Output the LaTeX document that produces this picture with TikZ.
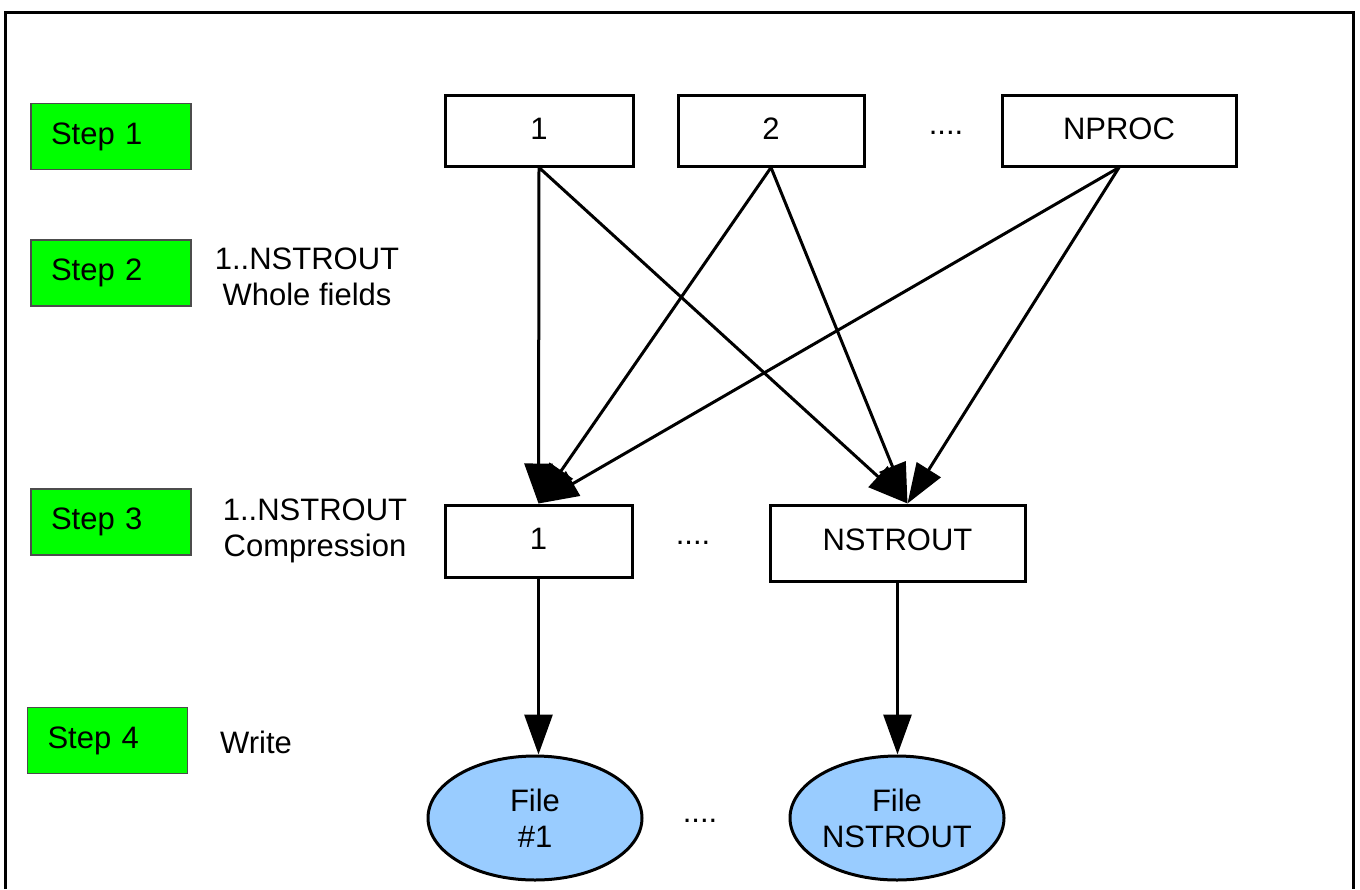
\documentclass[tikz,border=0pt]{standalone}
\usepackage{fontspec}
\setmainfont{Liberation Sans}
\usetikzlibrary{arrows.meta,shapes.geometric}
\definecolor{stepgreen}{HTML}{00FF00}
\definecolor{fileblue}{HTML}{99CCFF}
\newcommand{\uptext}[1]{\raisebox{2pt}{#1}}
\begin{document}
\begin{tikzpicture}[x=0.5pt,y=-0.5pt,
  font=\fontsize{15.5}{18}\selectfont,
  stepbox/.style={draw=black!70, line width=0.7pt, fill=stepgreen, minimum height=33pt,
    text width=60pt, inner xsep=10pt, inner ysep=0pt, align=left},
  procbox/.style={draw, line width=1.5pt, minimum height=35.5pt, inner sep=0pt},
  filenode/.style={ellipse, draw, line width=1.5pt, fill=fileblue, minimum width=107pt,
    minimum height=62pt, align=center, inner sep=0pt},
  arr/.style={line width=1.5pt, -{Triangle[length=20pt,width=14pt]}}]
\useasboundingbox (0,0) rectangle (1360,889);
\draw[line width=1.5pt] (5,889) -- (5,12) -- (1353,12) -- (1353,889);

% step boxes
\node[stepbox] (s1) at (111,136.5) {\uptext{Step 1}};
\node[stepbox] (s2) at (111,273) {\uptext{Step 2}};
\node[stepbox] (s3) at (111,522) {\uptext{Step 3}};
\node[stepbox] (s4) at (107.5,740.5) {\uptext{Step 4}};

% labels
\node[align=center] (l2) at (307,277) {1..NSTROUT\\Whole fields};
\node[align=center] (l3) at (315,531) {1..NSTROUT\\Compression};
\node (l4) at (256,742) {Write};

% processes
\node[procbox, minimum width=94pt] (p1) at (539,130.5) {\uptext{1}};
\node[procbox, minimum width=93pt] (p2) at (771,130.5) {\uptext{2}};
\node[procbox, minimum width=117pt] (pn) at (1119,130.5) {\uptext{NPROC}};

% compression
\node[procbox, minimum width=93.5pt, minimum height=36pt] (c1) at (538.5,541) {\uptext{1}};
\node[procbox, minimum width=127.5pt, minimum height=38pt] (cn) at (897.5,543) {\raisebox{3pt}{NSTROUT}};

% files
\node[filenode] (f1) at (535,818) {File\\\#1};
\node[filenode] (fn) at (897,818) {File\\NSTROUT};

% dots
\node[anchor=base] (d1) at (946,134) {....};
\node[anchor=base] (d2) at (693,544) {....};
\node[anchor=base] (d3) at (700,822) {....};

% arrows
\draw[arr] (p1.south) -- (c1.north);
\draw[arr] (p1.south) -- ([xshift=5pt]cn.north);
\draw[arr] (p2.south) -- (c1.north);
\draw[arr] (p2.south) -- ([xshift=5pt]cn.north);
\draw[arr] (pn.south) -- (c1.north);
\draw[arr] (pn.south) -- ([xshift=5pt]cn.north);
\draw[arr] (c1.south) -- (c1.south |- f1.north);
\draw[arr] (cn.south) -- (cn.south |- fn.north);
\end{tikzpicture}
\end{document}
